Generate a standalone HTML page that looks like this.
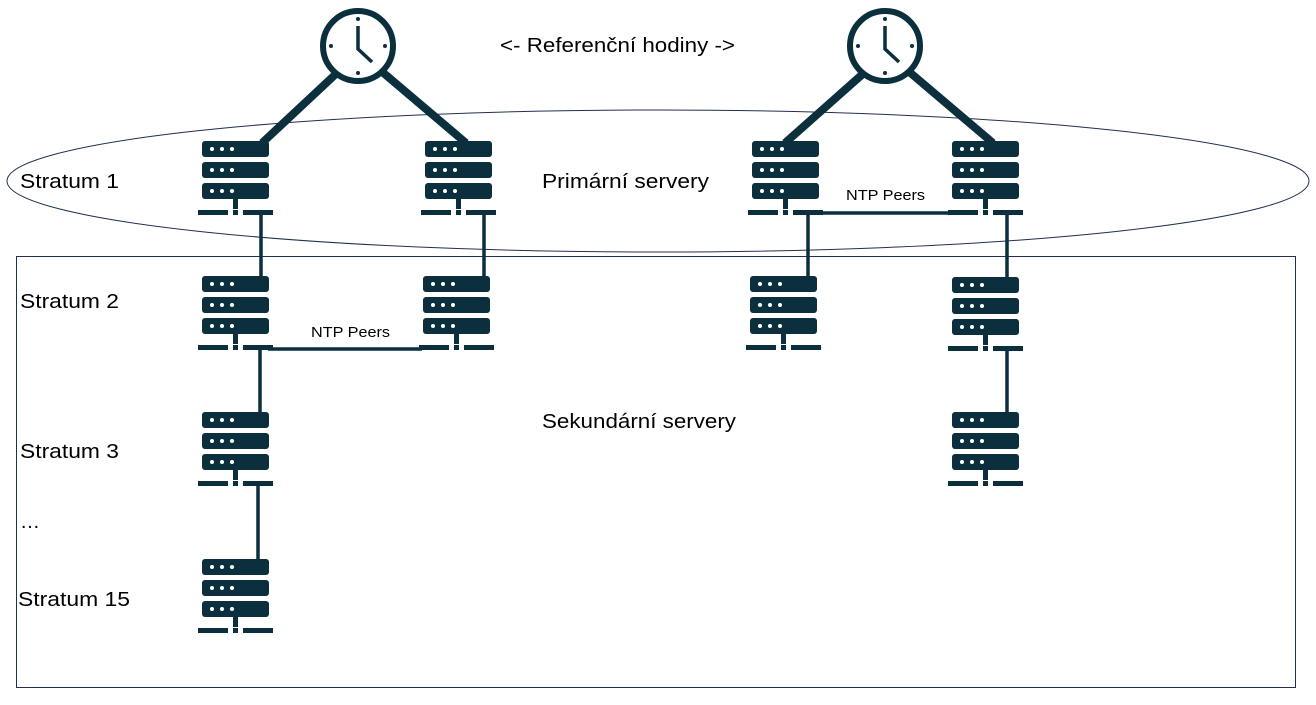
<!DOCTYPE html>
<html><head><meta charset="utf-8"><style>
html,body{margin:0;padding:0;background:#fff;width:1316px;height:705px;overflow:hidden}
svg text{font-family:"Liberation Sans",sans-serif;fill:#000}
</style></head><body>
<svg width="1316" height="705" viewBox="0 0 1316 705" xmlns="http://www.w3.org/2000/svg">
<defs>
<g id="srv" fill="#0b2f3d">
<rect x="0" y="0" width="67" height="16" rx="3"/>
<rect x="0" y="21" width="67" height="16" rx="3"/>
<rect x="0" y="42" width="67" height="16" rx="3"/>
<g fill="#fff"><circle cx="10" cy="8" r="2"/><circle cx="20" cy="8" r="2"/><circle cx="30" cy="8" r="2"/>
<circle cx="10" cy="29" r="2"/><circle cx="20" cy="29" r="2"/><circle cx="30" cy="29" r="2"/>
<circle cx="10" cy="50" r="2"/><circle cx="20" cy="50" r="2"/><circle cx="30" cy="50" r="2"/></g>
<rect x="31" y="58" width="5" height="10"/>
<rect x="-4" y="69" width="30" height="5"/>
<rect x="31" y="69" width="5" height="5"/>
<rect x="41" y="69" width="30" height="5"/>
</g>
<g id="clk">
<circle cx="0" cy="0" r="35" fill="#fff" stroke="#0b2f3d" stroke-width="6"/>
<g fill="#0b2f3d"><circle cx="0" cy="-27" r="2"/><circle cx="0" cy="27" r="2"/><circle cx="-27" cy="0" r="2"/><circle cx="27" cy="0" r="2"/></g>
<polyline points="0,-20 0,3 14,16" fill="none" stroke="#0b2f3d" stroke-width="3.5"/>
</g>
</defs>
<rect x="16.5" y="256.5" width="1279" height="431" fill="none" stroke="#1f3050" stroke-width="1"/>
<ellipse cx="658" cy="181" rx="651" ry="71" fill="none" stroke="#1f3050" stroke-width="1"/>
<g stroke="#0b2f3d" stroke-width="8">
<line x1="338" y1="72" x2="262" y2="143"/><line x1="380" y1="70" x2="466" y2="143"/>
<line x1="865" y1="72" x2="785" y2="143"/><line x1="907" y1="70" x2="993" y2="143"/>
</g>
<g stroke="#0b2f3d" stroke-width="3.5">
<line x1="261" y1="212" x2="261" y2="278"/>
<line x1="484" y1="212" x2="484" y2="278"/>
<line x1="808" y1="212" x2="808" y2="278"/>
<line x1="1007" y1="212" x2="1007" y2="279"/>
<line x1="260" y1="349" x2="260" y2="414"/>
<line x1="258" y1="486" x2="258" y2="561"/>
<line x1="1007" y1="350" x2="1007" y2="414"/>
<line x1="268" y1="349" x2="422" y2="349"/>
<line x1="808" y1="213" x2="952" y2="213"/>
</g>
<use href="#srv" x="202" y="141"/><use href="#srv" x="425" y="141"/>
<use href="#srv" x="752" y="141"/><use href="#srv" x="952" y="141"/>
<use href="#srv" x="202" y="276"/><use href="#srv" x="423" y="276"/>
<use href="#srv" x="750" y="276"/><use href="#srv" x="952" y="277"/>
<use href="#srv" x="202" y="412"/><use href="#srv" x="952" y="412"/>
<use href="#srv" x="202" y="559"/>
<use href="#clk" x="358" y="46"/><use href="#clk" x="885" y="46"/>
<g font-size="20">
<text x="500" y="52" textLength="235" lengthAdjust="spacingAndGlyphs">&lt;- Referenční hodiny -&gt;</text>
<text x="20" y="188" textLength="99" lengthAdjust="spacingAndGlyphs">Stratum 1</text>
<text x="542" y="188" textLength="167" lengthAdjust="spacingAndGlyphs">Primární servery</text>
<text x="20" y="308" textLength="99" lengthAdjust="spacingAndGlyphs">Stratum 2</text>
<text x="20" y="458" textLength="99" lengthAdjust="spacingAndGlyphs">Stratum 3</text>
<text x="20" y="528">…</text>
<text x="18" y="606" textLength="112" lengthAdjust="spacingAndGlyphs">Stratum 15</text>
<text x="542" y="428" textLength="194" lengthAdjust="spacingAndGlyphs">Sekundární servery</text>
</g>
<g font-size="15">
<text x="311" y="337" textLength="79" lengthAdjust="spacingAndGlyphs">NTP Peers</text>
<text x="846" y="200" textLength="79" lengthAdjust="spacingAndGlyphs">NTP Peers</text>
</g>
</svg>
</body></html>
